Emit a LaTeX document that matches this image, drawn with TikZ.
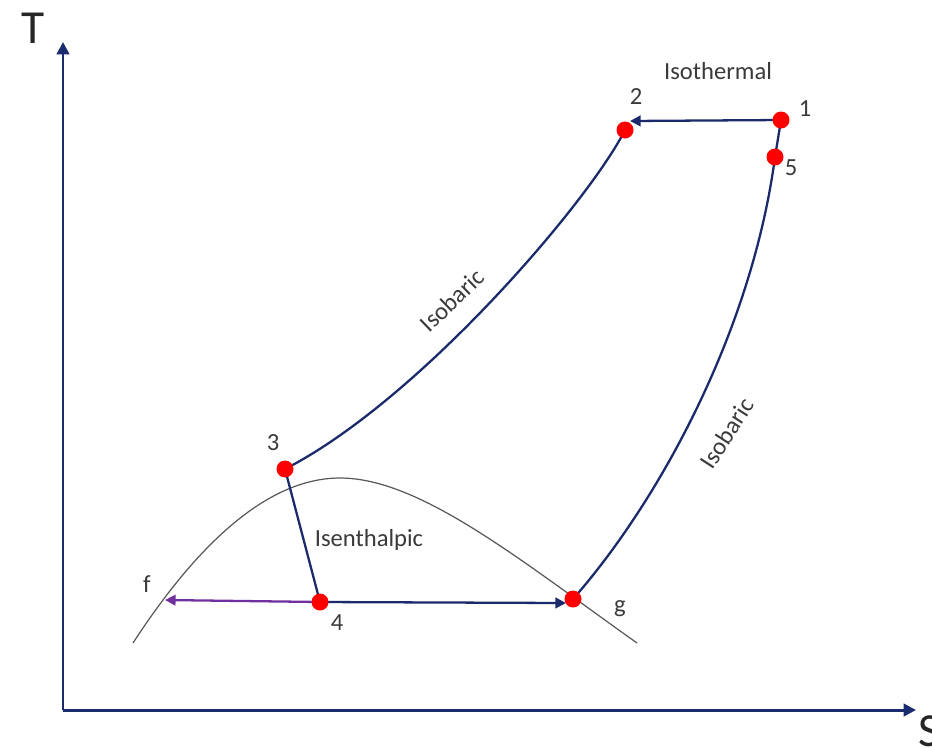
\documentclass[tikz,border=0pt]{standalone}
\usepackage{fontspec}
\setmainfont{Carlito}
\usetikzlibrary{arrows.meta}
\pgfdeclarelayer{bg}
\pgfsetlayers{bg,main}
\definecolor{navy}{HTML}{1B2A6B}
\definecolor{axisblue}{HTML}{1A2B70}
\definecolor{purp}{HTML}{7030A0}
\definecolor{txt}{HTML}{3A3A3A}
\tikzset{
  dot/.style={circle,fill=red,draw=none,minimum size=0.34cm,inner sep=0pt},
  lbl/.style={text=txt,font=\fontsize{14}{16}\selectfont,inner sep=0pt},
  axislbl/.style={text=black!85,font=\fontsize{27}{30}\selectfont,inner sep=0pt},
  axisline/.style={draw=axisblue,line width=1.7pt,-{Triangle[length=7pt,width=7pt]}},
  cycle/.style={draw=navy,line width=1.3pt},
  cyclearrow/.style={cycle,-{Triangle[length=6pt,width=6pt]}},
  purparrow/.style={draw=purp,line width=1.3pt,-{Triangle[length=6pt,width=6pt]}},
  dome/.style={draw=black!65,line width=0.7pt}
}
\begin{document}
\begin{tikzpicture}[x=0.02cm,y=-0.02cm]
\useasboundingbox (0,0) rectangle (932,748);
% axes
\coordinate (O) at (63,710);
\coordinate (ytop) at (63,42);
\coordinate (xend) at (916,710);
\draw[axisline] (O) -- (ytop);
\draw[axisline] (O) -- (xend);
\node[axislbl] (T) at (33,28) {T};
\node[axislbl] (S) at (929,731) {S};
% state points
\node[dot] (p1) at (781,120) {};
\node[dot] (p2) at (625,130) {};
\node[dot] (p5) at (775,157) {};
\node[dot] (p3) at (285,469) {};
\node[dot] (p4) at (320,602) {};
\node[dot] (pg) at (573,599) {};
\coordinate (pf) at (165,600);
\coordinate (a2) at (630,121);
\coordinate (ag) at (566,603);
% labels
\node[lbl] (l1) at (805,109) {1};
\node[lbl] (l2) at (636,97) {2};
\node[lbl] (l5) at (791,168) {5};
\node[lbl] (l3) at (273,443) {3};
\node[lbl] (l4) at (337,623) {4};
\node[lbl] (lg) at (620,609) {g};
\node[lbl] (lf) at (147,584) {f};
\node[lbl] (iso) at (718,71) {Isothermal};
\node[lbl] (isen) at (369,540) {Isenthalpic};
\node[lbl,rotate=44] (ib1) at (452,300) {Isobaric};
\node[lbl,rotate=57] (ib2) at (727,433) {Isobaric};
\begin{pgfonlayer}{bg}
% saturation dome
\draw[dome] (133,643) .. controls (200,540) and (270,478) .. (340,478)
  .. controls (420,478) and (520,560) .. (637,643);
% cycle
\draw[cyclearrow] (p1.center) -- (a2);
\draw[cycle] (p2.center) .. controls (590,200) and (420,400) .. (p3.center);
\draw[cycle] (p3.center) -- (p4.center);
\draw[cyclearrow] (p4.center) -- (ag);
\draw[purparrow] (p4.center) -- (pf);
\draw[cycle] (p1.center) -- (p5.center);
\draw[cycle] (p5.center) .. controls (752,330) and (660,500) .. (pg.center);
\end{pgfonlayer}
\end{tikzpicture}
\end{document}
